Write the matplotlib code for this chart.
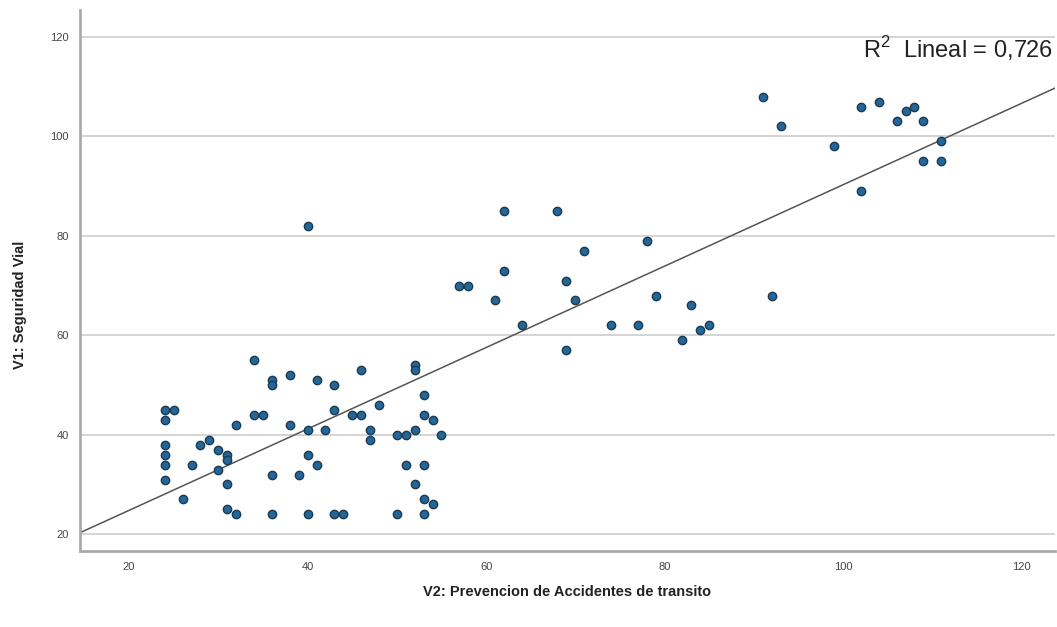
import numpy as np
import matplotlib
matplotlib.use("Agg")
import matplotlib.pyplot as plt

# V2: Prevencion de Accidentes de transito (x) / V1: Seguridad Vial (y)
v2 = [24, 25, 24, 24, 24, 24, 24,
      26, 27, 28, 29, 30, 30, 31, 31, 31, 31, 32, 32,
      34, 34, 35, 36, 36, 36, 36, 38, 38, 39,
      40, 40, 40, 40, 41, 41, 42, 43, 43, 43, 44,
      45, 46, 46, 47, 47, 48, 50, 50, 51, 51,
      52, 52, 52, 52, 53, 53, 53, 53, 53, 54, 54, 55,
      57, 58, 61, 62, 62, 64, 68, 69, 69, 70, 71, 74, 77, 78, 79, 82, 83, 84, 85,
      91, 92, 93, 99, 102, 102, 104, 106, 107, 108, 109, 109, 111, 111]
v1 = [45, 45, 43, 38, 36, 34, 31,
      27, 34, 38, 39, 37, 33, 36, 35, 30, 25, 24, 42,
      55, 44, 44, 51, 50, 32, 24, 52, 42, 32,
      41, 36, 24, 82, 51, 34, 41, 50, 45, 24, 24,
      44, 44, 53, 41, 39, 46, 40, 24, 40, 34,
      54, 53, 41, 30, 48, 44, 34, 27, 24, 43, 26, 40,
      70, 70, 67, 85, 73, 62, 85, 71, 57, 67, 77, 62, 62, 79, 68, 59, 66, 61, 62,
      108, 68, 102, 98, 106, 89, 107, 103, 105, 106, 103, 95, 99, 95]

x_ticks = [20, 40, 60, 80, 100, 120]
y_ticks = [20, 40, 60, 80, 100, 120]
r2_label = "R$^2$  Lineal = 0,726"

plt.rcParams['font.family'] = ['Liberation Sans', 'DejaVu Sans']
plt.rcParams['mathtext.fontset'] = 'custom'
plt.rcParams['mathtext.rm'] = 'Liberation Sans'

fig = plt.figure(figsize=(10.57, 6.27), dpi=100)
ax = fig.add_axes([0.0757, 0.121, 0.922, 0.863])

ax.set_xlim(14.5, 123.7)
ax.set_ylim(16.6, 125.4)

for y in y_ticks:
    ax.axhline(y, color="#d4d4d4", lw=1.4, zorder=0)

# linea de ajuste
slope, intercept = np.polyfit(v2, v1, 1)
xs = np.array(ax.get_xlim())
ax.plot(xs, intercept + slope * xs, color="#555555", lw=1.1, zorder=2)

ax.scatter(v2, v1, s=36, color="#23679a", edgecolors="#1d3b4f", linewidths=1.0, zorder=3)

ax.set_xticks(x_ticks)
ax.set_yticks(y_ticks)
ax.tick_params(length=0, labelsize=8, colors="#444444", pad=8)

for s in ["top", "right"]:
    ax.spines[s].set_visible(False)
for s in ["left", "bottom"]:
    ax.spines[s].set_color("#aaaaaa")
    ax.spines[s].set_linewidth(2)

ax.set_xlabel("V2: Prevencion de Accidentes de transito", fontsize=10.5, fontweight="bold",
              color="#222222")
ax.set_ylabel("V1: Seguridad Vial", fontsize=10.5, fontweight="bold", color="#222222")
ax.xaxis.set_label_coords(0.5, -0.063)
ax.yaxis.set_label_coords(-0.054, 0.455)

ax.text(0.803, 0.928, r2_label, transform=ax.transAxes, fontsize=17,
        color="#222222", va="center", ha="left")

fig.savefig("out.png", dpi=100)
